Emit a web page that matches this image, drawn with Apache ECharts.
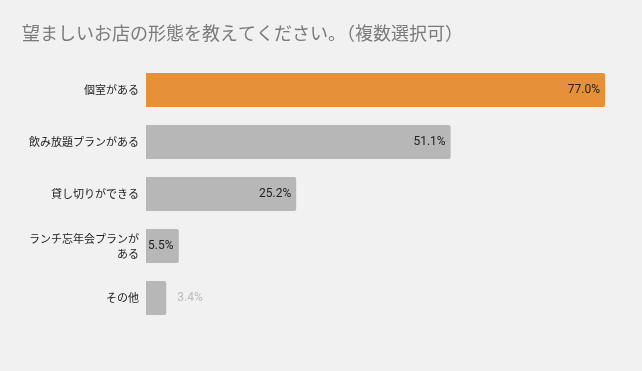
<!DOCTYPE html>
<html><head><meta charset="utf-8">
<script src="https://cdn.jsdelivr.net/npm/echarts@6/dist/echarts.min.js"></script>
<style>html,body{margin:0;padding:0;background:#f1f1f1}#c{width:642px;height:371px}</style>
</head><body><div id="c"></div>
<script>
const titleText = '望ましいお店の形態を教えてください。（複数選択可）';
const categories = ['個室がある', '飲み放題プランがある', '貸し切りができる', 'ランチ忘年会プランがある', 'その他'];
const values = [77.0, 51.1, 25.2, 5.5, 3.4];

const font = '"Noto Sans CJK JP", "Noto Sans", sans-serif';
const labelFor = (i) => {
  if (i === 3) return { position: 'insideLeft', distance: 2, color: '#222' };
  if (i === 4) return { position: 'right', distance: 11, color: '#bbb' };
  return { position: 'insideRight', distance: 5, color: '#222' };
};
const chart = echarts.init(document.getElementById('c'));
chart.setOption({
  backgroundColor: '#f1f1f1',
  animation: false,
  title: { text: titleText, left: 17, top: 19, textStyle: { fontFamily: font, fontSize: 18, fontWeight: 'normal', color: '#7a7a7a' } },
  grid: { left: 146, right: 37, top: 64, bottom: 47, containLabel: false },
  xAxis: { type: 'value', min: 0, max: 77, show: false },
  yAxis: {
    type: 'category', data: categories, inverse: true,
    axisLine: { show: false }, axisTick: { show: false },
    axisLabel: { margin: 7, fontFamily: font, fontSize: 11, color: '#222', width: 115, overflow: 'break', lineHeight: 15 }
  },
  series: [{
    type: 'bar', barWidth: 34,
    data: values.map((v, i) => ({
      value: v,
      itemStyle: { color: i === 0 ? '#e69138' : '#b7b7b7', borderRadius: [0, 2, 2, 0] },
      label: Object.assign({ show: true, fontFamily: 'Roboto, sans-serif', fontSize: 12, formatter: (p) => p.value.toFixed(1) + '%' }, labelFor(i))
    }))
  }]
});
</script></body></html>
